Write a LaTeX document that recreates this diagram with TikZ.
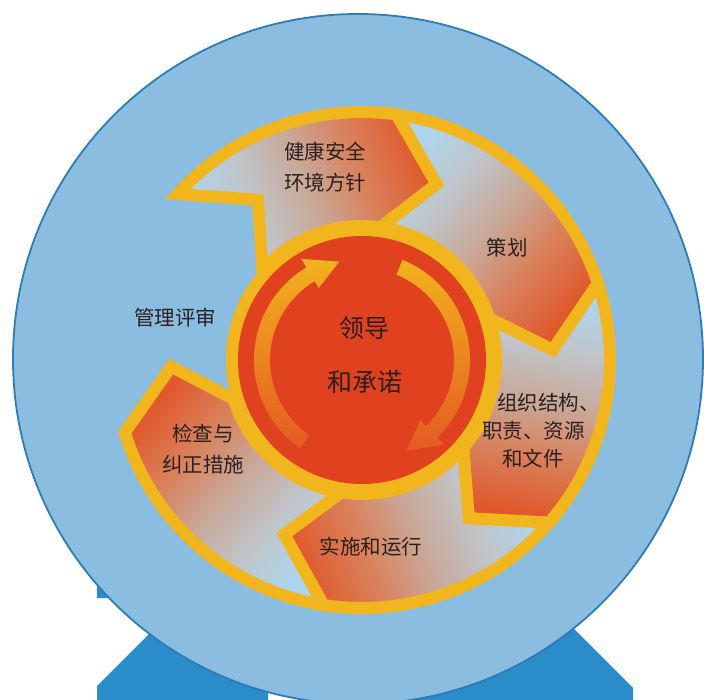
\documentclass[tikz,border=0pt]{standalone}
\usepackage{fontspec}
\newfontfamily\cjk{Noto Sans CJK SC}
\definecolor{bgC}{HTML}{8BBDE0}
\definecolor{bgEdge}{HTML}{2E7CB6}
\definecolor{ribbon}{HTML}{2A8CC8}
\definecolor{ringY}{HTML}{F1B51E}
\definecolor{coreR}{HTML}{E0421F}
\definecolor{aLB}{HTML}{ACD6F0}
\definecolor{aGB}{HTML}{BFC6CC}
\definecolor{aGY}{HTML}{C9A898}
\definecolor{aOR}{HTML}{D9805A}
\definecolor{aRD}{HTML}{E0582C}
\definecolor{inY}{HTML}{F2B21E}
\definecolor{inO}{HTML}{E55A22}
\definecolor{txt}{HTML}{2A2020}
\pgfdeclarehorizontalshading{ringgrad}{100bp}{color(0bp)=(aLB); color(25bp)=(aLB); color(37bp)=(aGB); color(50bp)=(aGY); color(62bp)=(aOR); color(75bp)=(aRD); color(100bp)=(aRD)}
\newcommand{\ringarrow}[3]{%
  \shadedraw[arrowsty, shading angle=#3]
    (#1:248pt) arc[start angle=#1, end angle=#2, radius=248pt]
    -- ({#2-15}:191pt) -- (#2:134pt)
    arc[start angle=#2, end angle=#1, radius=134pt]
    -- ({#1-15}:191pt) -- cycle;}
\tikzset{
  arrowsty/.style={shading=ringgrad, draw=ringY, line width=12pt, line join=miter},
  lbl/.style={text=txt, font=\cjk\fontsize{20.5}{31}\selectfont, align=center, inner sep=0pt},
  corelbl/.style={text=txt, font=\cjk\fontsize{25}{30}\selectfont, inner sep=0pt}
}
\begin{document}
\begin{tikzpicture}[x=1pt,y=1pt]
\useasboundingbox (0,0) rectangle (704,699);
\clip (0,0) rectangle (704,699);
\fill[white] (0,0) rectangle (704,699);
% ribbons
\fill[ribbon] (97,170) -- (97,101) -- (185,101) -- (97,13) -- (97,-10) -- (268,-10) -- (268,170) -- cycle;
\fill[ribbon] (633,-10) -- (633,11) -- (540,104) -- (400,104) -- (400,-10) -- cycle;
% big disc
\filldraw[fill=bgC, draw=bgEdge, line width=1.8pt] (358,340) circle[radius=345pt];
% ring of arrows
\begin{scope}[shift={(362,339)}]
  \ringarrow{138}{82}{20}
  \ringarrow{82}{18}{-40}
  \ringarrow{18}{-41}{-101}
  \ringarrow{-41}{-99}{-160}
  \ringarrow{-99}{-163}{139}
  % core
  \fill[ringY] (0,0) circle[radius=136pt];
  \fill[coreR] (0,0) circle[radius=124pt];
  % inner cycle arrows
  \shade[top color=inY, bottom color=inO]
    (235:108pt) arc[start angle=235, end angle=121, radius=108pt]
    -- (121:118pt) -- (103:101pt) -- (121:84pt) -- (121:92pt)
    arc[start angle=121, end angle=235, radius=92pt] -- cycle;
  \shade[top color=inY, bottom color=inO]
    (68:108pt) arc[start angle=68, end angle=-46, radius=108pt]
    -- (-46:118pt) -- (-64:101pt) -- (-46:84pt) -- (-46:92pt)
    arc[start angle=-46, end angle=68, radius=92pt] -- cycle;
\end{scope}
% labels
\node[lbl] (policy) at (325,532) {健康安全\\环境方针};
\node[lbl] (plan) at (507,451) {策划};
\node[lbl, anchor=west] (org1) at (497,296) {组织结构、};
\node[lbl, anchor=west] (org2) at (482,268) {职责、资源};
\node[lbl, anchor=west] (org3) at (502,240) {和文件};
\node[lbl] (impl) at (371,152) {实施和运行};
\node[lbl] (check) at (203,250) {检查与\\纠正措施};
\node[lbl] (review) at (175,381) {管理评审};
\node[corelbl] (lead1) at (364,371) {领导};
\node[corelbl] (lead2) at (365,317) {和承诺};
\end{tikzpicture}
\end{document}
